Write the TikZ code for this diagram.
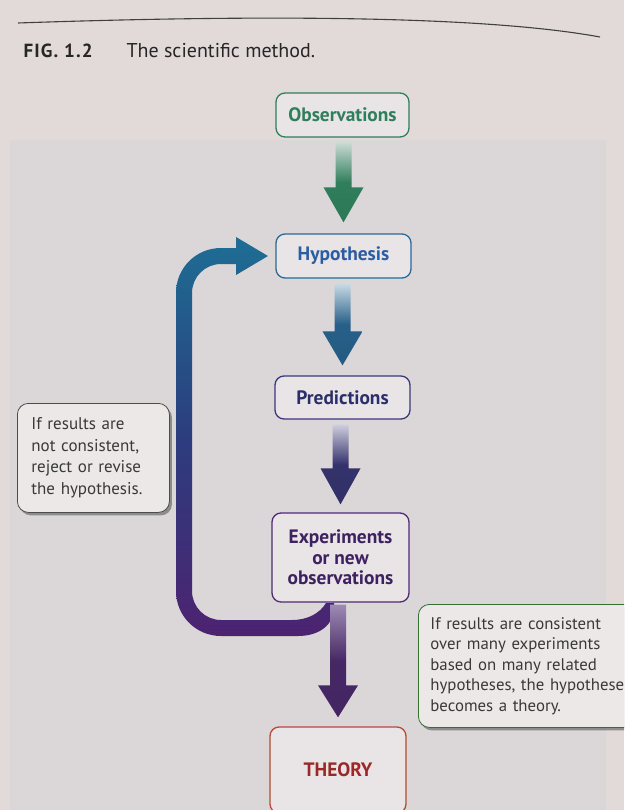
\documentclass[tikz,border=0pt]{standalone}
\usepackage{fontspec}
\setmainfont{PT Sans}
\usetikzlibrary{calc,shadows}
\definecolor{pagebg}{HTML}{E1DAD9}
\definecolor{panelbg}{HTML}{DBD6D7}
\definecolor{boxfill}{HTML}{E9E5E6}
\definecolor{callfill}{HTML}{ECE8E8}
\definecolor{calltext}{HTML}{3A3838}
\definecolor{obsc}{HTML}{2F7E5C}
\definecolor{hypc}{HTML}{2A6A98}
\definecolor{hyptext}{HTML}{2B5DA2}
\definecolor{predc}{HTML}{3A3878}
\definecolor{predtext}{HTML}{2A2F6C}
\definecolor{expc}{HTML}{4E2C72}
\definecolor{exptext}{HTML}{3E2160}
\definecolor{theoc}{HTML}{B04C38}
\definecolor{theotext}{HTML}{9A2828}
\definecolor{fbtop}{HTML}{1D6E94}
\definecolor{fbmid}{HTML}{2C3D7E}
\definecolor{fbbot}{HTML}{4C2371}
\newcommand{\blkarrow}[6]{%
  \shade[top color=#3, bottom color=#5, middle color=#4] let \p1=#1, \p2=#2 in
  (\x2-8pt,\y1) -- (\x2-8pt,\y2+#6) -- (\x2-20pt,\y2+#6) -- (\x2,\y2)
  -- (\x2+20pt,\y2+#6) -- (\x2+8pt,\y2+#6) -- (\x2+8pt,\y1) -- cycle;}
\begin{document}
\begin{tikzpicture}[x=1pt,y=-1pt,
  box/.style={draw, line width=1.3pt, rounded corners=9pt, fill=boxfill,
    font=\fontsize{19.4}{20.5}\selectfont\bfseries, align=center, inner sep=0pt},
  callout/.style={line width=0.8pt, rounded corners=11pt, fill=callfill,
    font=\fontsize{17}{21.5}\selectfont, text=calltext, align=left,
    drop shadow={shadow xshift=2.5pt, shadow yshift=-3pt, opacity=0.35, fill=black}}]
\useasboundingbox (0,0) rectangle (624,810);
\clip (0,0) rectangle (624,810);
\fill[pagebg] (0,0) rectangle (624,810);
\fill[panelbg] (10,140) rectangle (606,810);
% top rule
\draw[line width=1.1pt, black!75] (18,23) .. controls (250,15) and (480,15) .. (600,37);
% caption
\node[anchor=base west, font=\fontsize{19}{20}\selectfont\bfseries\addfontfeature{LetterSpace=6}, text=black!85] (fig) at (20,58) {FIG. 1.2};
\node[anchor=base west, font=\fontsize{20}{22}\selectfont, text=black!85] (cap) at (123,58) {The scientific method.};
% boxes
\node[box, draw=obsc, text=obsc, minimum width=133pt, minimum height=44pt] (obs) at (342.5,115) {Observations};
\node[box, draw=hypc, text=hyptext, minimum width=135pt, minimum height=44pt] (hyp) at (343.5,256) {Hypothesis};
\node[box, draw=predc, text=predtext, minimum width=135pt, minimum height=43pt] (pred) at (342.5,397.5) {Predictions};
\node[box, draw=expc, text=exptext, minimum width=137pt, minimum height=89pt] (exp) at (340.5,557.5) {Experiments\\or new\\observations};
\node[box, draw=theoc, text=theotext, minimum width=136pt, minimum height=86pt] (theo) at (338,770) {THEORY};
% feedback arrow
\shade[top color=fbtop, bottom color=fbbot, middle color=fbmid]
  (236,248) -- (221,248) .. controls (196,248) and (176,268) .. (176,293)
  -- (176,591) .. controls (176,616) and (196,636) .. (221,636)
  -- (298,636) .. controls (320,636) and (334,624) .. (334,608)
  -- (334,603) -- (326,603) .. controls (320,613) and (308,620) .. (292,620)
  -- (221,620) .. controls (205,620) and (192,607) .. (192,591)
  -- (192,293) .. controls (192,277) and (205,264) .. (221,264)
  -- (236,264) -- (236,275) -- (268,256) -- (236,237) -- cycle;
% straight arrows
\blkarrow{($(obs.south)+(0,5)$)}{($(hyp.north)+(0,-11)$)}{black!15!obsc!25!white}{obsc}{obsc!95!black}{35pt}
\blkarrow{($(hyp.south)+(0,5)$)}{($(pred.north)+(0,-10)$)}{hypc!25!white}{hypc!90!black}{hypc!85!black}{34pt}
\blkarrow{($(pred.south)+(0,5)$)}{($(exp.north)+(0,-8)$)}{predc!25!white}{predc!90!black}{predc!85!black}{36pt}
\blkarrow{($(exp.south)+(0,2)$)}{($(theo.north)+(0,-9)$)}{expc!55!white}{expc!90!black}{expc!85!black}{32pt}
% callouts
\node[callout, draw=black!70, anchor=north west, minimum width=146pt, minimum height=109pt,
  text width=124pt, inner xsep=14pt] (left) at (17,403)
  {If results are\\not consistent,\\reject or revise\\the hypothesis.};
\node[callout, draw=black!60!green!60!gray, anchor=north west, minimum height=123pt,
  text width=215pt, inner xsep=12pt, font=\fontsize{16.8}{20.5}\selectfont] (right) at (418,604)
  {If results are consistent\\over many experiments\\based on many related\\hypotheses, the hypothese\\becomes a theory.};
\end{tikzpicture}
\end{document}
